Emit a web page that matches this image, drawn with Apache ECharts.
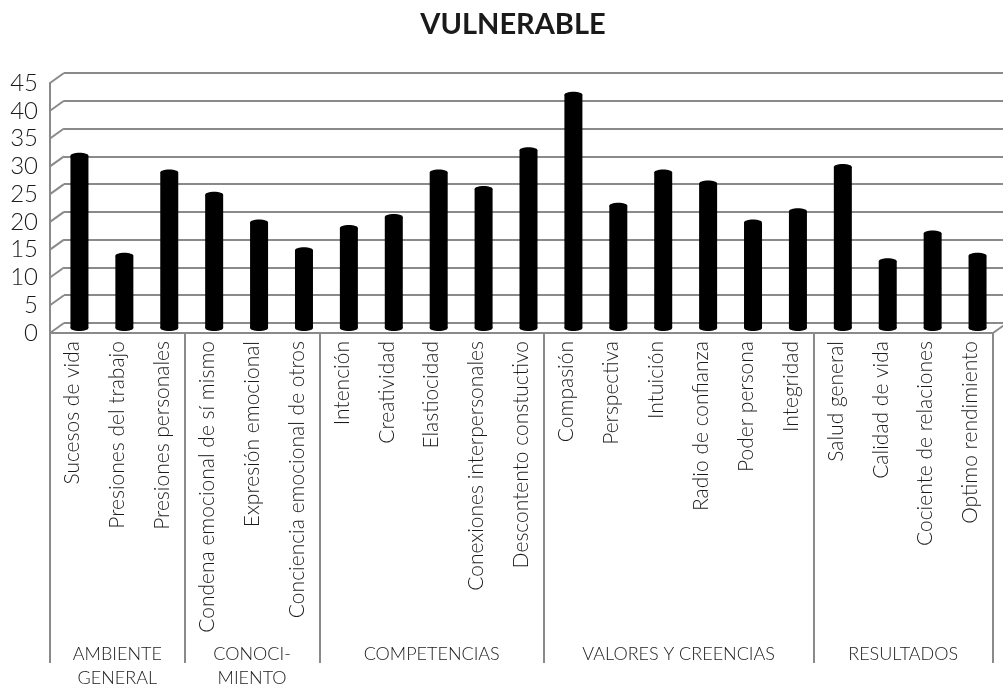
<!DOCTYPE html>
<html>
<head>
<meta charset="utf-8">
<script src="https://cdn.jsdelivr.net/npm/echarts@6/dist/echarts.min.js"></script>
<style>
  html, body { margin: 0; padding: 0; background: #fff; }
  #chart { width: 1003px; height: 687px; }
</style>
</head>
<body>
<div id="chart"></div>
<script>
// datos
const categories = [
  'Sucesos de vida', 'Presiones del trabajo', 'Presiones personales',
  'Condena emocional de sí mismo', 'Expresión emocional', 'Conciencia emocional de otros',
  'Intención', 'Creatividad', 'Elastiocidad', 'Conexiones interpersonales', 'Descontento constuctivo',
  'Compasión', 'Perspectiva', 'Intuición', 'Radio de confianza', 'Poder persona', 'Integridad',
  'Salud general', 'Calidad de vida', 'Cociente de relaciones', 'Optimo rendimiento'
];
const values = [31, 13, 28, 24, 19, 14, 18, 20, 28, 25, 32, 42, 22, 28, 26, 19, 21, 29, 12, 17, 13];
const groupNames = ['AMBIENTE\nGENERAL', 'CONOCI-\nMIENTO', 'COMPETENCIAS', 'VALORES Y CREENCIAS', 'RESULTADOS'];
const groupSizes = [3, 3, 5, 6, 4];
const yTicks = [0, 5, 10, 15, 20, 25, 30, 35, 40, 45];

// limites y centros de cada grupo
const groupEdges = [0];
groupSizes.forEach(s => groupEdges.push(groupEdges[groupEdges.length - 1] + s));
const groupCenters = groupSizes.map((s, i) => groupEdges[i] + s / 2);

const DX = 14, DY = -10; // profundidad 3D
const GRAY = '#8a8a8a';
const FONT = 'Lato, "Open Sans", sans-serif';

const chart = echarts.init(document.getElementById('chart'));

const option = {
  animation: false,
  backgroundColor: '#fff',
  title: {
    text: 'VULNERABLE',
    left: 508, top: 5,
    textAlign: 'center',
    textStyle: { fontFamily: FONT, fontWeight: 'bold', fontSize: 29, color: '#1a1a1a' }
  },
  grid: [
    { left: 50, right: 10, top: 83, bottom: 354, containLabel: false, outerBoundsMode: 'none' },           // plano frontal
    { left: 50 + DX, right: -20, top: 83 + DY, bottom: 354 - DY, containLabel: false, outerBoundsMode: 'none' } // pared del fondo
  ],
  xAxis: [
    {
      type: 'category', gridIndex: 0, data: categories,
      axisLine: { lineStyle: { color: GRAY, width: 2 } },
      axisTick: { show: false },
      axisLabel: {
        rotate: 90, interval: 0, margin: 8,
        fontFamily: FONT, fontWeight: 300, fontSize: 21, color: '#1a1a1a'
      }
    },
    {
      type: 'value', gridIndex: 1, min: 0, max: 21, show: false
    },
    {
      type: 'value', gridIndex: 0, min: 0, max: 21, position: 'bottom',
      axisLine: { show: false },
      splitLine: { show: false },
      axisTick: {
        show: true, customValues: groupEdges, length: 330,
        lineStyle: { color: GRAY, width: 2 }
      },
      axisLabel: {
        customValues: groupCenters, margin: 309,
        formatter: v => groupNames[groupCenters.indexOf(v)],
        fontFamily: FONT, fontWeight: 300, fontSize: 18, lineHeight: 24, color: '#1a1a1a', align: 'center'
      }
    }
  ],
  yAxis: [
    {
      type: 'value', gridIndex: 0, min: 0, max: 45, interval: 5,
      axisLine: { show: true, lineStyle: { color: GRAY, width: 2 } },
      axisTick: { show: false },
      splitLine: { show: false },
      axisLabel: {
        margin: 12, fontFamily: FONT, fontWeight: 300, fontSize: 24, color: '#1a1a1a',
        padding: [6, 0, 0, 0]
      }
    },
    {
      type: 'value', gridIndex: 1, min: 0, max: 45, interval: 5,
      axisLine: { show: false }, axisTick: { show: false }, axisLabel: { show: false },
      splitLine: { show: true, lineStyle: { color: GRAY, width: 2 } }
    }
  ],
  series: [
    {
      // diagonales de la pared lateral y del piso
      type: 'custom', xAxisIndex: 0, yAxisIndex: 0,
      data: yTicks.map(v => [v]),
      silent: true,
      renderItem: (params, api) => {
        const cs = params.coordSys;
        const y = api.coord([0, api.value(0)])[1];
        const children = [{
          type: 'line',
          shape: { x1: cs.x, y1: y, x2: cs.x + DX, y2: y + DY },
          style: { stroke: GRAY, lineWidth: 2 }
        }];
        if (api.value(0) === 0) {
          children.push({
            type: 'line',
            shape: { x1: cs.x + cs.width, y1: y, x2: cs.x + cs.width + DX, y2: y + DY },
            style: { stroke: GRAY, lineWidth: 2 }
          });
        }
        return { type: 'group', children };
      }
    },
    {
      // columnas cilindricas
      type: 'custom', xAxisIndex: 0, yAxisIndex: 0,
      data: values.map((v, i) => [i, v]),
      z: 5,
      renderItem: (params, api) => {
        const top = api.coord([api.value(0), api.value(1)]);
        const base = api.coord([api.value(0), 0]);
        const cx = top[0] + DX / 2;
        const ty = top[1] + DY / 2;
        const by = base[1] + DY / 2;
        const w = 18;
        return {
          type: 'group',
          children: [
            { type: 'rect', shape: { x: cx - w / 2, y: ty, width: w, height: by - ty }, style: { fill: '#000' } },
            { type: 'ellipse', shape: { cx: cx, cy: ty, rx: w / 2, ry: 3 }, style: { fill: '#000' } },
            { type: 'ellipse', shape: { cx: cx, cy: by, rx: w / 2, ry: 3 }, style: { fill: '#000' } }
          ]
        };
      }
    }
  ]
};

chart.setOption(option);
</script>
</body>
</html>
